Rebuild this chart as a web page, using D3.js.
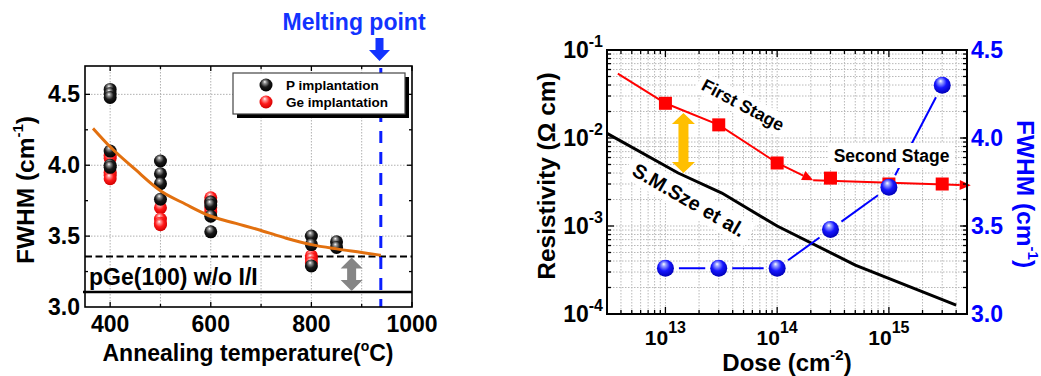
<!DOCTYPE html>
<html>
<head>
<meta charset="utf-8">
<script src="https://cdn.jsdelivr.net/npm/d3@7"></script>
<style>
  body { margin: 0; background: #fff; }
  svg text { font-family: "Liberation Sans", Arial, sans-serif; font-weight: bold; }
</style>
</head>
<body>
<svg id="fig" width="1041" height="376"></svg>
<script>
// ---------- Panel (a): Raman FWHM vs annealing temperature ----------
const tempTicks = [400, 600, 800, 1000];
const fwhmTicks = [3.0, 3.5, 4.0, 4.5];

// P-implanted samples
const pTemp = [400, 400, 400, 400, 400, 400, 500, 500, 500, 500, 600, 600, 600, 600, 800, 800, 800, 850, 850];
const pFwhm = [4.535, 4.505, 4.478, 4.10, 4.00, 3.985, 4.03, 3.94, 3.87, 3.76, 3.74, 3.72, 3.64, 3.53, 3.50, 3.44, 3.29, 3.46, 3.42];
// Ge-implanted samples
const geTemp = [400, 400, 400, 400, 400, 500, 500, 500, 500, 600, 600, 600, 600, 800, 800, 800];
const geFwhm = [4.07, 4.05, 3.95, 3.93, 3.905, 3.70, 3.62, 3.59, 3.58, 3.77, 3.74, 3.70, 3.67, 3.36, 3.34, 3.31];
// Trend curve
const fitTemp = [366, 400, 450, 500, 550, 600, 650, 700, 750, 800, 850, 900, 938];
const fitFwhm = [4.26, 4.13, 3.97, 3.82, 3.725, 3.64, 3.59, 3.54, 3.485, 3.44, 3.41, 3.385, 3.365];

const bulkFwhm = 3.105;       // pGe(100) without implantation
const saturationFwhm = 3.357; // dashed reference
const meltingPoint = 938;
const gapArrowTemp = 880;

// ---------- Panel (b): resistivity & FWHM vs dose ----------
const doseTicks = [1e13, 1e14, 1e15];
const doseExp = ["13", "14", "15"];
const rhoTicks = [1e-4, 1e-3, 1e-2, 1e-1];
const rhoExp = ["-4", "-3", "-2", "-1"];
const fwhm2Ticks = [3.0, 3.5, 4.0, 4.5];

const dose = [1e13, 3e13, 1e14, 3e14, 1e15, 3e15];
const rho = [0.0248, 0.0141, 0.0052, 0.0035, 0.0030, 0.0030];
const fwhmDose = [3.26, 3.26, 3.26, 3.48, 3.72, 4.30];

// S.M.Sze reference curve
const szeDose = [3e12, 1.3e13, 3.2e13, 1e14, 5e14, 4e15];
const szeRho = [0.0113, 0.0040, 0.00237, 0.0010, 0.00036, 0.000126];

// Guide arrows for the two stages
const stage1Dose = [3.75e12, 1e13, 3e13, 1e14, 2.1e14];
const stage1Rho = [0.054, 0.0248, 0.0141, 0.0052, 0.0033];
const stage2Dose = [2.1e14, 5.4e15];
const stage2Rho = [0.0033, 0.0029];
const gapDose = 1.45e13;
const gapRho = [0.0192, 0.0040];

// ---------------------------------------------------------------
const svg = d3.select("#fig");
const defs = svg.append("defs");

function ball(id, hi, mid, base) {
  const g = defs.append("radialGradient").attr("id", id)
    .attr("cx", "45%").attr("cy", "40%").attr("r", "60%")
    .attr("fx", "40%").attr("fy", "25%");
  g.append("stop").attr("offset", "0%").attr("stop-color", "#ffffff");
  g.append("stop").attr("offset", "18%").attr("stop-color", hi);
  g.append("stop").attr("offset", "55%").attr("stop-color", mid);
  g.append("stop").attr("offset", "100%").attr("stop-color", base);
}
ball("gBlack", "#9a9a9a", "#1a1a1a", "#000000");
ball("gRed", "#ff9c9c", "#ff1a1a", "#d00000");
ball("gBlue", "#9da6ff", "#1616ff", "#0000b8");

function label(g, x, y, parts, opt = {}) {
  const t = g.append("text")
    .attr("transform", `translate(${x},${y})` + (opt.rot ? ` rotate(${opt.rot})` : ""))
    .attr("text-anchor", opt.anchor || "middle")
    .attr("fill", opt.fill || "#000")
    .style("font-size", (opt.size || 23) + "px");
  if (opt.baseline) t.attr("dominant-baseline", opt.baseline);
  let shift = 0;
  parts.forEach(p => {
    if (typeof p === "string") {
      t.append("tspan").attr("dy", -shift).text(p);
      shift = 0;
    } else {
      t.append("tspan").attr("dy", p.dy - shift).style("font-size", p.size + "px").text(p.sup);
      shift = p.dy;
    }
  });
  return t;
}

function vArrow(g, x, yTop, yBot, shaftW, headW, headH, color, both) {
  const pts = both ? [
    [x, yTop], [x + headW / 2, yTop + headH], [x + shaftW / 2, yTop + headH],
    [x + shaftW / 2, yBot - headH], [x + headW / 2, yBot - headH], [x, yBot],
    [x - headW / 2, yBot - headH], [x - shaftW / 2, yBot - headH],
    [x - shaftW / 2, yTop + headH], [x - headW / 2, yTop + headH]
  ] : [
    [x - shaftW / 2, yTop], [x + shaftW / 2, yTop], [x + shaftW / 2, yBot - headH],
    [x + headW / 2, yBot - headH], [x, yBot], [x - headW / 2, yBot - headH],
    [x - shaftW / 2, yBot - headH]
  ];
  g.append("polygon").attr("points", pts.map(p => p.join(",")).join(" ")).attr("fill", color);
}

// ================= Panel (a) =================
{
  const x0 = 85, x1 = 412, y0 = 66, y1 = 307;
  const x = d3.scaleLinear().domain([350, 1000]).range([x0, x1]);
  const y = d3.scaleLinear().domain([3.0, 4.7]).range([y1, y0]);
  const g = svg.append("g");

  // grid
  const gridX = d3.range(400, 1000, 100);
  const gridY = [3.5, 4.0, 4.5];
  g.selectAll(".gx").data(gridX).join("line")
    .attr("x1", d => x(d)).attr("x2", d => x(d)).attr("y1", y0).attr("y2", y1)
    .attr("stroke", "#b0b0b0").attr("stroke-width", 1).attr("stroke-dasharray", "1.5,1.5");
  g.selectAll(".gy").data(gridY).join("line")
    .attr("y1", d => y(d)).attr("y2", d => y(d)).attr("x1", x0).attr("x2", x1)
    .attr("stroke", "#b0b0b0").attr("stroke-width", 1).attr("stroke-dasharray", "1.5,1.5");

  // reference lines
  g.append("line").attr("x1", x0).attr("x2", x1).attr("y1", y(saturationFwhm)).attr("y2", y(saturationFwhm))
    .attr("stroke", "#000").attr("stroke-width", 2).attr("stroke-dasharray", "7,3.5");
  g.append("line").attr("x1", x0 - 2).attr("x2", x1).attr("y1", y(bulkFwhm)).attr("y2", y(bulkFwhm))
    .attr("stroke", "#000").attr("stroke-width", 2.5);

  // melting point
  g.append("line").attr("x1", x(meltingPoint)).attr("x2", x(meltingPoint)).attr("y1", y0 + 2).attr("y2", y1)
    .attr("stroke", "#0a1eff").attr("stroke-width", 3).attr("stroke-dasharray", "12,9");

  // data
  g.selectAll(".ge").data(geTemp.map((t, i) => [t, geFwhm[i]])).join("circle")
    .attr("cx", d => x(d[0])).attr("cy", d => y(d[1])).attr("r", 6.5).attr("fill", "url(#gRed)");
  g.selectAll(".p").data(pTemp.map((t, i) => [t, pFwhm[i]])).join("circle")
    .attr("cx", d => x(d[0])).attr("cy", d => y(d[1])).attr("r", 6.5).attr("fill", "url(#gBlack)");

  // trend curve
  g.append("path").datum(fitTemp.map((t, i) => [t, fitFwhm[i]]))
    .attr("d", d3.line().x(d => x(d[0])).y(d => y(d[1])).curve(d3.curveMonotoneX))
    .attr("fill", "none").attr("stroke", "#e2700f").attr("stroke-width", 3);

  // gray double arrow
  vArrow(g, x(gapArrowTemp), y(saturationFwhm) + 1, y(bulkFwhm) - 1, 9, 22, 11, "#858585", true);

  label(g, 89, 285, ["pGe(100) w/o I/I"], { anchor: "start", size: 23 });

  // frame and ticks
  g.append("rect").attr("x", x0).attr("y", y0).attr("width", x1 - x0).attr("height", y1 - y0)
    .attr("fill", "none").attr("stroke", "#000").attr("stroke-width", 1.6);
  const tk = (x1_, y1_, x2_, y2_) => g.append("line").attr("x1", x1_).attr("y1", y1_).attr("x2", x2_).attr("y2", y2_)
    .attr("stroke", "#000").attr("stroke-width", 1.3);
  d3.range(400, 1001, 100).forEach(v => {
    const L = v % 200 === 0 ? 5 : 3;
    tk(x(v), y1, x(v), y1 - L); tk(x(v), y0, x(v), y0 + L);
  });
  d3.range(3.25, 4.6, 0.25).forEach(v => {
    const L = Math.abs(v * 2 - Math.round(v * 2)) < 1e-6 ? 5 : 3;
    tk(x0, y(v), x0 + L, y(v)); tk(x1, y(v), x1 - L, y(v));
  });

  // tick labels
  fwhmTicks.forEach(v => label(g, 80, y(v) + 8, [v.toFixed(1)], { anchor: "end" }));
  tempTicks.forEach(v => label(g, x(v), 332, [String(v)]));

  // axis titles
  label(g, 248, 361, ["Annealing temperature(", { sup: "o", size: 14, dy: -10 }, "C)"]);
  label(g, 34, 190, ["FWHM (cm", { sup: "-1", size: 15, dy: -11 }, ")"], { rot: -90, size: 24.5 });

  // legend
  g.append("rect").attr("x", 237).attr("y", 77).attr("width", 172).attr("height", 41).attr("fill", "#000");
  g.append("rect").attr("x", 233).attr("y", 73).attr("width", 172).attr("height", 41)
    .attr("fill", "#fff").attr("stroke", "#444").attr("stroke-width", 1.2);
  g.append("circle").attr("cx", 266).attr("cy", 85).attr("r", 6.5).attr("fill", "url(#gBlack)");
  g.append("circle").attr("cx", 266).attr("cy", 102).attr("r", 6.5).attr("fill", "url(#gRed)");
  label(g, 286, 90, ["P implantation"], { anchor: "start", size: 13.5 });
  label(g, 286, 107, ["Ge implantation"], { anchor: "start", size: 13.5 });

  // melting point annotation
  label(g, 354, 30, ["Melting point"], { fill: "#1233ff", size: 23 });
  vArrow(g, 379.5, 38, 61, 8, 21, 11, "#1233ff", false);
}

// ================= Panel (b) =================
{
  const x0 = 607, x1 = 967, y0 = 50, y1 = 314;
  const x = d3.scaleLog().domain([3e12, 5e15]).range([x0, x1]);
  const y = d3.scaleLog().domain([1e-4, 1e-1]).range([y1, y0]);
  const y2 = d3.scaleLinear().domain([3.0, 4.5]).range([y1, y0]);
  const g = svg.append("g");

  // dense log grid
  const gx = x.ticks(30).filter(d => x(d) > x0 + 0.5 && x(d) < x1 - 0.5);
  const gy = y.ticks(30).filter(d => y(d) > y0 + 0.5 && y(d) < y1 - 0.5);
  g.selectAll(".gx").data(gx).join("line")
    .attr("x1", d => x(d)).attr("x2", d => x(d)).attr("y1", y0).attr("y2", y1)
    .attr("stroke", "#b8b8b8").attr("stroke-width", 1).attr("stroke-dasharray", "1.5,1.5");
  g.selectAll(".gy").data(gy).join("line")
    .attr("y1", d => y(d)).attr("y2", d => y(d)).attr("x1", x0).attr("x2", x1)
    .attr("stroke", "#b8b8b8").attr("stroke-width", 1).attr("stroke-dasharray", "1.5,1.5");

  // white backgrounds behind rotated labels
  const box = (cx, cy, w, h, rot) => g.append("rect").attr("x", -w / 2).attr("y", -h / 2)
    .attr("width", w).attr("height", h).attr("fill", "#fff")
    .attr("transform", `translate(${cx},${cy}) rotate(${rot})`);
  box(743, 105, 100, 22, 28);
  box(689, 200, 140, 26, 30);

  // S.M.Sze curve
  g.append("path").datum(szeDose.map((d, i) => [d, szeRho[i]]))
    .attr("d", d3.line().x(d => x(d[0])).y(d => y(d[1])))
    .attr("fill", "none").attr("stroke", "#000").attr("stroke-width", 3);

  // red stage arrows
  function arrowLine(ds, rs, headL, headW) {
    const pts = ds.map((d, i) => [x(d), y(rs[i])]);
    const n = pts.length;
    const [ax, ay] = pts[n - 2], [bx, by] = pts[n - 1];
    const len = Math.hypot(bx - ax, by - ay), ux = (bx - ax) / len, uy = (by - ay) / len;
    const base = [bx - ux * headL, by - uy * headL];
    const linePts = pts.slice(0, n - 1).concat([base]);
    g.append("path").attr("d", d3.line()(linePts)).attr("fill", "none")
      .attr("stroke", "#ff0000").attr("stroke-width", 2);
    g.append("polygon").attr("points", [
      [bx, by], [base[0] - uy * headW / 2, base[1] + ux * headW / 2], [base[0] + uy * headW / 2, base[1] - ux * headW / 2]
    ].map(p => p.join(",")).join(" ")).attr("fill", "#ff0000");
  }
  arrowLine(stage1Dose, stage1Rho, 11, 10);
  arrowLine(stage2Dose, stage2Rho, 11, 10);

  // gold double arrow
  vArrow(g, x(gapDose), y(gapRho[0]), y(gapRho[1]), 10, 23, 11, "#ffbf00", true);

  // blue FWHM segments with gaps at symbols
  const bp = dose.map((d, i) => [x(d), y2(fwhmDose[i])]);
  const rB = 8.5, gap = 5;
  for (let i = 0; i < bp.length - 1; i++) {
    const [ax, ay] = bp[i], [bx, by] = bp[i + 1];
    const len = Math.hypot(bx - ax, by - ay), ux = (bx - ax) / len, uy = (by - ay) / len;
    const s = rB + gap;
    g.append("line").attr("x1", ax + ux * s).attr("y1", ay + uy * s)
      .attr("x2", bx - ux * s).attr("y2", by - uy * s)
      .attr("stroke", "#0000ff").attr("stroke-width", 2);
  }

  // "Second Stage" box occludes the blue line
  g.append("rect").attr("x", 829).attr("y", 143).attr("width", 125).attr("height", 25).attr("fill", "#fff");

  // red squares
  g.selectAll(".sq").data(dose.map((d, i) => [d, rho[i]])).join("rect")
    .attr("x", d => x(d[0]) - 6.5).attr("y", d => y(d[1]) - 6.5)
    .attr("width", 13).attr("height", 13).attr("fill", "#ff0000");
  // blue balls
  g.selectAll(".bb").data(bp).join("circle")
    .attr("cx", d => d[0]).attr("cy", d => d[1]).attr("r", rB).attr("fill", "url(#gBlue)");

  // annotations
  label(g, 743, 105, ["First Stage"], { rot: 28, size: 17.5, baseline: "central" });
  label(g, 689, 200, ["S.M.Sze et al."], { rot: 30, size: 20, baseline: "central" });
  label(g, 891.5, 161.5, ["Second Stage"], { size: 17.5 });

  // frame and ticks
  g.append("rect").attr("x", x0).attr("y", y0).attr("width", x1 - x0).attr("height", y1 - y0)
    .attr("fill", "none").attr("stroke", "#000").attr("stroke-width", 2);
  const tk = (a, b, c, d) => g.append("line").attr("x1", a).attr("y1", b).attr("x2", c).attr("y2", d)
    .attr("stroke", "#000").attr("stroke-width", 1.3);
  x.ticks(30).filter(d => x(d) >= x0 && x(d) <= x1).forEach(d => {
    const major = Math.abs(Math.log10(d) - Math.round(Math.log10(d))) < 1e-9;
    const L = major ? 7 : 4;
    tk(x(d), y1, x(d), y1 - L); tk(x(d), y0, x(d), y0 + L);
  });
  y.ticks(30).filter(d => y(d) >= y0 && y(d) <= y1).forEach(d => {
    const major = Math.abs(Math.log10(d) - Math.round(Math.log10(d))) < 1e-9;
    tk(x0, y(d), x0 + (major ? 7 : 4), y(d));
    tk(x1, y(d), x1 - 4, y(d));
  });
  fwhm2Ticks.forEach(v => tk(x1, y2(v), x1 - 7, y2(v)));

  // tick labels
  rhoTicks.forEach((v, i) => label(g, 603, y(v) + 8, ["10", { sup: rhoExp[i], size: 16, dy: -11 }], { anchor: "end" }));
  fwhm2Ticks.forEach(v => label(g, 971, y2(v) + 8, [v.toFixed(1)], { anchor: "start", fill: "#0000ff" }));
  doseTicks.forEach((v, i) => label(g, x(v), 344.5, ["10", { sup: doseExp[i], size: 16, dy: -12 }], { size: 21 }));

  // axis titles
  label(g, 787, 371, ["Dose (cm", { sup: "-2", size: 15, dy: -11 }, ")"], { size: 24 });
  label(g, 555, 176, ["Resistivity (\u03A9 cm)"], { rot: -90, size: 24.5 });
  label(g, 1017, 194, ["FWHM (cm", { sup: "-1", size: 15, dy: -11 }, ")"], { rot: 90, fill: "#0000ff", size: 24.5 });
}
</script>
</body>
</html>
